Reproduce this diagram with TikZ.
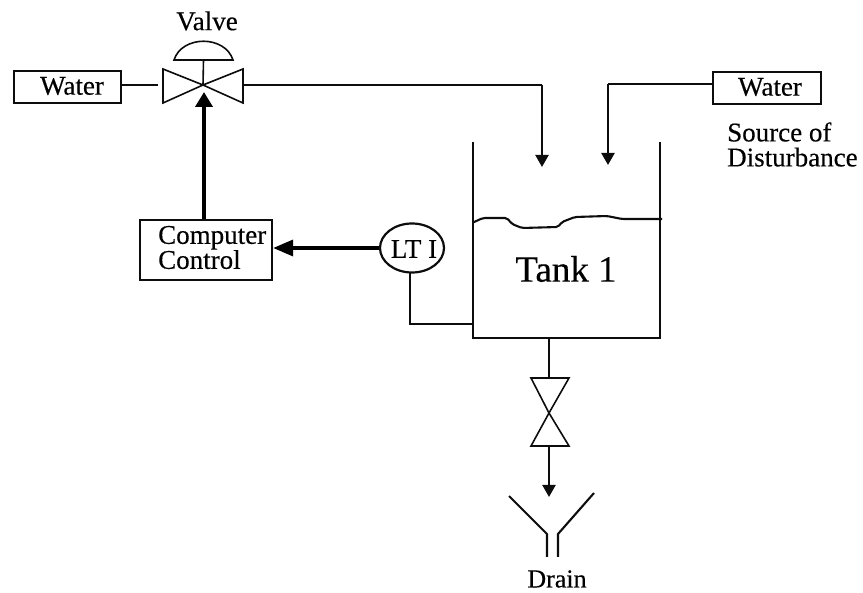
\documentclass[tikz,border=0pt]{standalone}
\usepackage{fontspec}
\setmainfont{Liberation Serif}[RawFeature={embolden=0.35}]
\usetikzlibrary{arrows.meta,shapes.geometric}
\tikzset{
  wire/.style={line width=2.1pt,draw=black!95},
  thin wire/.style={line width=1.6pt,draw=black!95},
  heavy/.style={line width=4pt,draw=black},
  flow/.style={wire,-{Triangle[length=12pt,width=13pt]}},
  strong/.style={heavy,-{Triangle[length=15pt,width=17pt]}},
  box/.style={draw=black!95,line width=2.2pt,inner sep=0pt,fill=white},
  lbl/.style={inner sep=0pt,align=left,font=\fontsize{27}{25}\selectfont},
}
\begin{document}
\begin{tikzpicture}[x=1pt,y=-1pt]
\useasboundingbox (0,0) rectangle (863,593);
% boxes
\node[box,minimum width=107pt,minimum height=32pt] (w1) at (67.5,87) {};
\node[lbl] (w1t) at (72,86) {Water};
\node[box,minimum width=108pt,minimum height=32pt] (w2) at (767,88) {};
\node[lbl] (w2t) at (770,87) {Water};
\node[box,minimum width=132pt,minimum height=60pt] (cc) at (206,250) {};
\node[lbl,anchor=west] (cct) at (158,247.5) {Computer\\Control};
\node[draw=black!95,line width=2.2pt,ellipse,minimum width=64pt,minimum height=49pt,inner sep=0pt] (lt) at (412,248) {};
\node[lbl] (ltt) at (414,249) {LT I};
% main valve
\coordinate (vc) at (203,85);
\coordinate (vl) at (158,85);
\coordinate (vr) at (243,85);
\draw[thin wire,line join=miter] (163,69) -- (vc) -- (243,69) -- (243,103) -- (vc) -- (163,103) -- cycle;
\draw[thin wire] (174,60) .. controls (182,35) and (225,35) .. (233,60) -- cycle;
\coordinate (stem) at (203.5,60);
\draw[thin wire] (stem) -- (vc);
\draw[wire] (w1.east |- vc) -- (vl);
% feed lines
\coordinate (f1) at (542,85);
\coordinate (f1e) at (542,167);
\draw[wire] (vr) -- (f1);
\draw[flow] (f1) -- (f1e);
\coordinate (f2) at (608,84);
\coordinate (f2e) at (608,165);
\draw[wire] (w2.west |- f2) -- (f2);
\draw[flow] (f2) -- (f2e);
% control
\coordinate (vb) at (204,92);
\draw[strong] (cc.north -| vb) -- (vb);
\coordinate (ltw) at (cc.east |- lt);
\draw[strong,line width=3.4pt,-{Triangle[length=20pt,width=16pt]}] (lt.west) -- (ltw);
% tank
\draw[wire,line join=miter] (473,142) -- (473,338) -- (660,338) -- (660,142);
\draw[wire,rounded corners=2pt] (473,222.5) -- (483,218) -- (507,218) -- (512,224) -- (522,228) -- (558,227) -- (562,222) -- (575,217) -- (607,216) -- (622,219) -- (662,219);
\node[inner sep=0pt,font=\fontsize{37}{40}\selectfont] (tank) at (566,269) {Tank 1};
% level tap
\coordinate (ltb) at (410,273);
\coordinate (tapc) at (410,324);
\coordinate (tap) at (473,324);
\draw[wire] (ltb) -- (tapc) -- (tap);
% drain
\coordinate (ob) at (549,338);
\coordinate (dt) at (549,378);
\coordinate (dm) at (549,413);
\coordinate (db) at (549,446);
\draw[wire] (ob) -- (dt);
\draw[thin wire,line join=miter] (531,378) -- (569,378) -- (dm) -- cycle;
\draw[thin wire,line join=miter] (531,446) -- (569,446) -- (dm) -- cycle;
\coordinate (de) at (549,497);
\draw[flow] (db) -- (de);
\draw[wire] (509,496) -- (547,534) -- (547,557);
\draw[wire] (594,493) -- (558,534) -- (558,557);
% labels
\node[lbl] (valve) at (207,21) {Valve};
\node[lbl,anchor=west] (src) at (727,144.5) {Source of\\Disturbance};
\node[lbl,font=\fontsize{26}{25}\selectfont] (drain) at (557,579) {Drain};
\end{tikzpicture}
\end{document}
